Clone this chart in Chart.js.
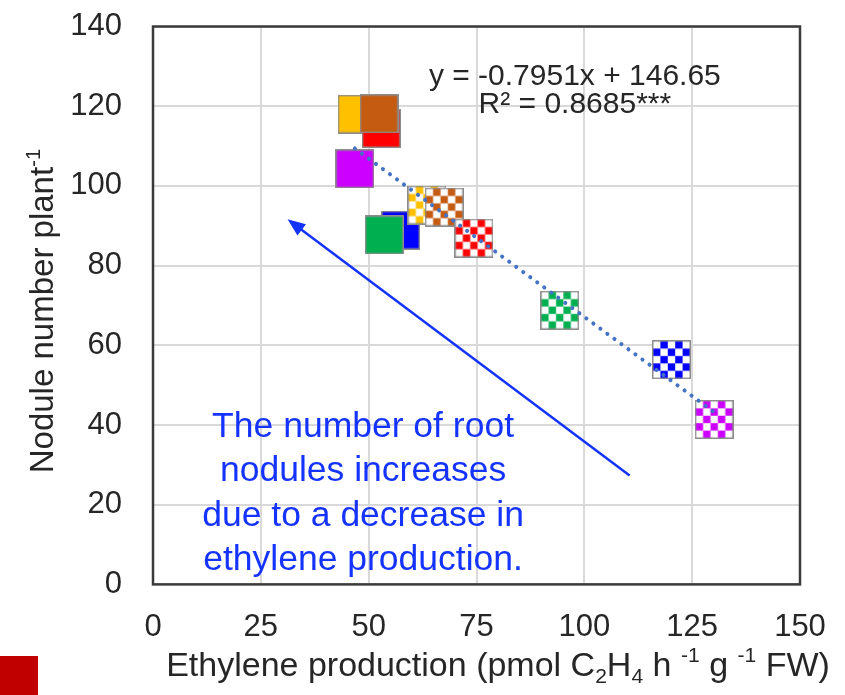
<!DOCTYPE html>
<html>
<head>
<meta charset="utf-8">
<script src="https://cdn.jsdelivr.net/npm/chart.js@4"></script>
<style>
  body { margin: 0; background: #fff; }
  #wrap { position: relative; width: 845px; height: 695px; }
  #corner { position: absolute; left: 0; top: 656px; width: 38px; height: 39px; background: #c00000; }
</style>
</head>
<body>
<div id="wrap">
  <canvas id="chart"></canvas>
  <div id="corner"></div>
</div>
<script>
// values
const ethylene = [47.3, 52.9, 52.4, 46.8, 57.4, 53.6, 63.5, 67.5, 74.4, 94.3, 120.2, 130.1];
const nodules = [118.0, 114.4, 118.1, 104.3, 88.9, 87.7, 95.2, 94.7, 86.9, 68.8, 56.4, 41.4];
const markerColors = ['#ffc000', '#ff0000', '#c55a11', '#cc00ff', '#0000ff', '#00b050',
  '#ffc000', '#c55a11', '#ff0000', '#00b050', '#0000ff', '#cc00ff'];
const checkered = [false, false, false, false, false, false, true, true, true, true, true, true];
const trendX = [46.8, 130.0];
const trendY = [109.4, 43.3];
const xTicks = [0, 25, 50, 75, 100, 125, 150];
const yTicks = [0, 20, 40, 60, 80, 100, 120, 140];

const FONT = '"Liberation Sans", Arial, sans-serif';
const INK = '#262626';
const NOTE = '#1433ff';

function makeMarker(color, checks) {
  const size = 39;
  const c = document.createElement('canvas');
  c.width = size;
  c.height = size;
  const ctx = c.getContext('2d');
  ctx.fillStyle = checks ? '#ffffff' : color;
  ctx.fillRect(0, 0, size, size);
  if (checks) {
    const cell = (size - 2) / 5;
    ctx.fillStyle = color;
    for (let i = 0; i < 5; i++) {
      for (let j = 0; j < 5; j++) {
        if ((i + j) % 2 === 1) ctx.fillRect(1 + i * cell, 1 + j * cell, cell, cell);
      }
    }
  }
  ctx.strokeStyle = '#8c8c8c';
  ctx.lineWidth = 1.5;
  ctx.strokeRect(0.75, 0.75, size - 1.5, size - 1.5);
  return c;
}

const markers = markerColors.map((col, i) => makeMarker(col, checkered[i]));

// draws text made of pieces, some of them sub- or superscript
function richWidth(ctx, parts, size) {
  let w = 0;
  parts.forEach((p) => {
    ctx.font = (p.s ? size * 0.62 : size) + 'px ' + FONT;
    w += ctx.measureText(p.t).width;
  });
  return w;
}

function drawRich(ctx, parts, x, y, size) {
  let cx = x;
  parts.forEach((p) => {
    const fs = p.s ? size * 0.62 : size;
    ctx.font = fs + 'px ' + FONT;
    let dy = 0;
    if (p.s === 'sub') dy = size * 0.22;
    if (p.s === 'sup') dy = -size * 0.4;
    ctx.fillText(p.t, cx, y + dy);
    cx += ctx.measureText(p.t).width;
  });
}

const xTitle = [
  { t: 'Ethylene production (pmol C' }, { t: '2', s: 'sub' }, { t: 'H' }, { t: '4', s: 'sub' },
  { t: ' h ' }, { t: '-1', s: 'sup' }, { t: ' g ' }, { t: '-1', s: 'sup' }, { t: ' FW)' }
];
const yTitle = [{ t: 'Nodule number plant' }, { t: '-1', s: 'sup' }];
const noteLines = ['The number of root', 'nodules increases', 'due to a decrease in', 'ethylene production.'];

const decorations = {
  id: 'decorations',
  afterDraw(chart) {
    const { ctx, chartArea: a, scales: { x, y } } = chart;
    ctx.save();

    // frame
    ctx.strokeStyle = '#3a3a3a';
    ctx.lineWidth = 2.5;
    ctx.strokeRect(a.left, a.top, a.right - a.left, a.bottom - a.top);

    // axis titles
    ctx.fillStyle = INK;
    ctx.textBaseline = 'alphabetic';
    ctx.textAlign = 'left';
    const xw = richWidth(ctx, xTitle, 34);
    drawRich(ctx, xTitle, 498 - xw / 2, 676, 34);

    ctx.save();
    ctx.translate(53, 311);
    ctx.rotate(-Math.PI / 2);
    const yw = richWidth(ctx, yTitle, 33);
    drawRich(ctx, yTitle, -yw / 2, 0, 33);
    ctx.restore();

    // regression text
    ctx.textAlign = 'center';
    ctx.font = '30px ' + FONT;
    ctx.fillText('y = -0.7951x + 146.65', x.getPixelForValue(97.8), y.getPixelForValue(125.4));
    ctx.fillText('R\u00b2 = 0.8685***', x.getPixelForValue(97.8), y.getPixelForValue(118.2));

    // note and arrow
    ctx.fillStyle = NOTE;
    ctx.font = '35.5px ' + FONT;
    noteLines.forEach((line, i) => {
      ctx.fillText(line, x.getPixelForValue(48.7), y.getPixelForValue(37) + i * 44.5);
    });

    const x0 = x.getPixelForValue(110.5), y0 = y.getPixelForValue(27.3);
    const x1 = x.getPixelForValue(31.2), y1 = y.getPixelForValue(91.6);
    const ang = Math.atan2(y1 - y0, x1 - x0);
    ctx.strokeStyle = NOTE;
    ctx.lineWidth = 2.5;
    ctx.beginPath();
    ctx.moveTo(x0, y0);
    ctx.lineTo(x1 - Math.cos(ang) * 12, y1 - Math.sin(ang) * 12);
    ctx.stroke();
    ctx.beginPath();
    ctx.moveTo(x1, y1);
    ctx.lineTo(x1 - Math.cos(ang - 0.38) * 19, y1 - Math.sin(ang - 0.38) * 19);
    ctx.lineTo(x1 - Math.cos(ang + 0.38) * 19, y1 - Math.sin(ang + 0.38) * 19);
    ctx.closePath();
    ctx.fill();

    ctx.restore();
  }
};

new Chart(document.getElementById('chart'), {
  type: 'scatter',
  data: {
    datasets: [
      {
        type: 'line',
        data: trendX.map((v, i) => ({ x: v, y: trendY[i] })),
        borderColor: '#4472c4',
        borderWidth: 4,
        borderDash: [0.1, 8.6],
        borderCapStyle: 'round',
        pointRadius: 0,
        fill: false,
        order: 0
      },
      {
        data: ethylene.map((v, i) => ({ x: v, y: nodules[i] })),
        pointStyle: markers,
        pointRadius: 19,
        order: 1
      }
    ]
  },
  options: {
    responsive: true,
    maintainAspectRatio: false,
    animation: false,
    layout: { padding: { top: 26.5, right: 45, left: 0, bottom: 0 } },
    plugins: { legend: { display: false }, tooltip: { enabled: false } },
    scales: {
      x: {
        type: 'linear',
        min: 0,
        max: 150,
        afterBuildTicks: (s) => { s.ticks = xTicks.map((v) => ({ value: v })); },
        afterFit: (s) => { s.height = 110.6; s.paddingLeft = 0; s.paddingRight = 0; },
        grid: { color: '#d9d9d9', lineWidth: 2, drawTicks: false },
        border: { display: false },
        ticks: { color: INK, font: { family: FONT, size: 31 }, padding: 24, maxRotation: 0 }
      },
      y: {
        type: 'linear',
        min: 0,
        max: 140,
        afterBuildTicks: (s) => { s.ticks = yTicks.map((v) => ({ value: v })); },
        afterFit: (s) => { s.width = 153; s.paddingTop = 0; s.paddingBottom = 0; },
        grid: { color: '#d9d9d9', lineWidth: 2, drawTicks: false },
        border: { display: false },
        ticks: { color: INK, font: { family: FONT, size: 31 }, padding: 31 }
      }
    }
  },
  plugins: [decorations]
});
</script>
</body>
</html>
